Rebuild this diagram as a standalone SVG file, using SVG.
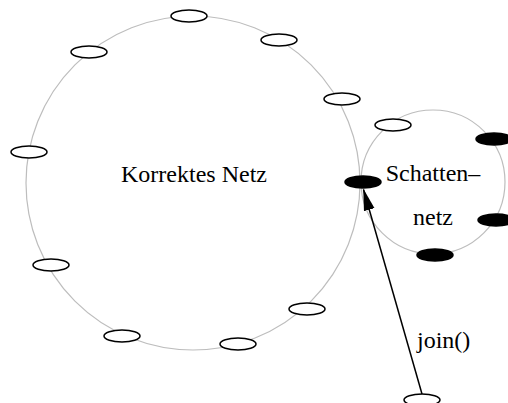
<svg xmlns="http://www.w3.org/2000/svg" width="508" height="403" viewBox="0 0 508 403">
  <style>
    .ring { fill: none; stroke: #bdbdbd; stroke-width: 1.2; }
    .peer { fill: #ffffff; stroke: #000000; stroke-width: 1.5; }
    .shadow { fill: #000000; stroke: #000000; stroke-width: 1.5; }
    .label { font-family: "Liberation Serif", "Times New Roman", serif; font-size: 24px; fill: #000000; }
    .edge { fill: none; stroke: #000000; stroke-width: 1.5; }
  </style>
  <defs>
    <marker id="head" viewBox="0 0 22 12" refX="21" refY="6" markerWidth="22" markerHeight="12" markerUnits="userSpaceOnUse" orient="auto">
      <path d="M0,0.5 L22,6 L0,11.5 Z" fill="#000000"/>
    </marker>
  </defs>
  <rect width="508" height="403" fill="#ffffff"/>

  <!-- main ring -->
  <g id="correct-net">
    <circle class="ring" cx="193" cy="183" r="167"/>
    <text class="label" x="194" y="182" text-anchor="middle">Korrektes Netz</text>
  </g>

  <!-- shadow ring -->
  <g id="shadow-net">
    <circle class="ring" cx="433" cy="182" r="72"/>
    <text class="label" x="433" y="181" text-anchor="middle">Schatten–</text>
    <text class="label" x="433" y="225" text-anchor="middle">netz</text>
  </g>

  <!-- peers on the main ring -->
  <g id="peer-1"><ellipse class="peer" cx="189" cy="16" rx="18" ry="6"/></g>
  <g id="peer-2"><ellipse class="peer" cx="89" cy="52" rx="18" ry="6"/></g>
  <g id="peer-3"><ellipse class="peer" cx="29" cy="152" rx="18" ry="6"/></g>
  <g id="peer-4"><ellipse class="peer" cx="51" cy="265" rx="18" ry="6"/></g>
  <g id="peer-5"><ellipse class="peer" cx="122" cy="336" rx="18" ry="6"/></g>
  <g id="peer-6"><ellipse class="peer" cx="238" cy="344" rx="18" ry="6"/></g>
  <g id="peer-7"><ellipse class="peer" cx="307" cy="309" rx="18" ry="6"/></g>
  <g id="peer-8"><ellipse class="peer" cx="279" cy="40" rx="18" ry="6"/></g>
  <g id="peer-9"><ellipse class="peer" cx="342" cy="99" rx="18" ry="6"/></g>

  <!-- peers on the shadow ring -->
  <g id="peer-10"><ellipse class="peer" cx="393" cy="125" rx="18" ry="6"/></g>
  <g id="shadow-1"><ellipse class="shadow" cx="363" cy="182" rx="18" ry="6"/></g>
  <g id="shadow-2"><ellipse class="shadow" cx="494" cy="139" rx="18" ry="6"/></g>
  <g id="shadow-3"><ellipse class="shadow" cx="496" cy="220" rx="18" ry="6"/></g>
  <g id="shadow-4"><ellipse class="shadow" cx="435" cy="255" rx="18" ry="6"/></g>

  <!-- joining peer -->
  <g id="newcomer"><ellipse class="peer" cx="422" cy="400" rx="18" ry="6"/></g>

  <!-- connectors -->
  <g id="connectors">
    <line class="edge" x1="422" y1="394" x2="363.5" y2="189.5" marker-end="url(#head)"/>
    <text class="label" x="417" y="348">join()</text>
  </g>
</svg>
